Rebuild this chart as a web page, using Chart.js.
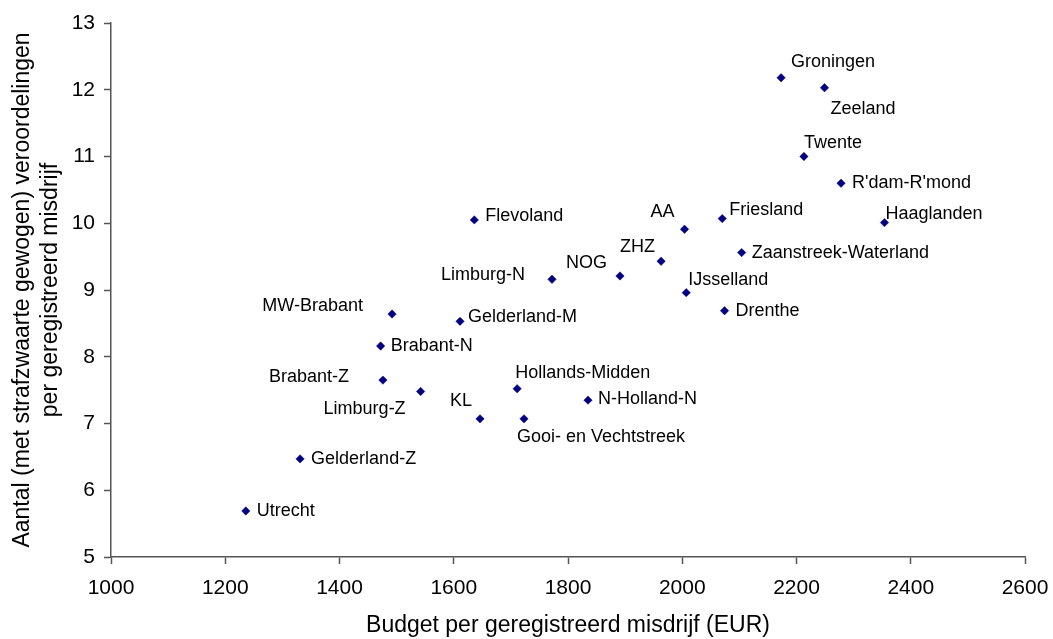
<!DOCTYPE html>
<html>
<head>
<meta charset="utf-8">
<script src="https://cdn.jsdelivr.net/npm/chart.js@4/dist/chart.umd.min.js"></script>
<style>
  html, body { margin: 0; padding: 0; background: #fff; }
  canvas { display: block; }
</style>
</head>
<body>
<canvas id="c" width="1053" height="639"></canvas>
<script>
// Politieregio's: budget per geregistreerd misdrijf vs. gewogen veroordelingen
const regios = [
  'Groningen', 'Zeeland', 'Twente', "R'dam-R'mond", 'Haaglanden',
  'Flevoland', 'AA', 'Friesland', 'ZHZ', 'Zaanstreek-Waterland',
  'NOG', 'Limburg-N', 'IJsselland', 'Drenthe', 'Gelderland-M',
  'Hollands-Midden', 'N-Holland-N', 'KL', 'Gooi- en Vechtstreek', 'MW-Brabant',
  'Brabant-N', 'Brabant-Z', 'Limburg-Z', 'Gelderland-Z', 'Utrecht'
];
const budget = [
  2173, 2249, 2213, 2278, 2354,
  1636, 2004, 2070, 1963, 2104,
  1891, 1772, 2007, 2074, 1611,
  1711, 1835, 1646, 1723, 1492,
  1472, 1476, 1542, 1331, 1236
];
const veroordelingen = [
  12.18, 12.03, 11.00, 10.60, 10.01,
  10.05, 9.91, 10.07, 9.43, 9.56,
  9.21, 9.16, 8.96, 8.69, 8.53,
  7.52, 7.35, 7.07, 7.07, 8.64,
  8.16, 7.65, 7.48, 6.47, 5.69
];
const xTicks = [1000, 1200, 1400, 1600, 1800, 2000, 2200, 2400, 2600];
const yTicks = [5, 6, 7, 8, 9, 10, 11, 12, 13];

// where each region's name sits relative to its marker
const labelPlacement = {
  'Groningen': ['left', 10, -16],
  'Zeeland': ['left', 6, 21],
  'Twente': ['left', 0, -13],
  "R'dam-R'mond": ['left', 11, 0],
  'Haaglanden': ['left', 1, -9],
  'Flevoland': ['left', 11, -4],
  'AA': ['right', -10, -17],
  'Friesland': ['left', 7, -9],
  'ZHZ': ['right', -6, -14],
  'Zaanstreek-Waterland': ['left', 10, 0],
  'NOG': ['right', -13, -13],
  'Limburg-N': ['right', -27, -4],
  'IJsselland': ['left', 2, -13],
  'Drenthe': ['left', 11, 0],
  'Gelderland-M': ['left', 8, -4],
  'Hollands-Midden': ['left', -2, -16],
  'N-Holland-N': ['left', 10, -1],
  'KL': ['right', -8, -18],
  'Gooi- en Vechtstreek': ['left', -7, 18],
  'MW-Brabant': ['right', -29, -8],
  'Brabant-N': ['left', 10, 0],
  'Brabant-Z': ['right', -34, -3],
  'Limburg-Z': ['right', -15, 18],
  'Gelderland-Z': ['left', 11, 0],
  'Utrecht': ['left', 11, 0]
};

const FONT = '"Liberation Sans", Arial, Helvetica, sans-serif';
const AXIS = '#555555';

const pointLabels = {
  id: 'pointLabels',
  afterDatasetsDraw(chart) {
    const ctx = chart.ctx;
    const meta = chart.getDatasetMeta(0);
    ctx.save();
    ctx.font = '18px ' + FONT;
    ctx.fillStyle = '#000';
    ctx.textBaseline = 'middle';
    meta.data.forEach((pt, i) => {
      const name = regios[i];
      const p = labelPlacement[name] || ['left', 10, 0];
      ctx.textAlign = p[0];
      ctx.fillText(name, pt.x + p[1], pt.y + p[2]);
    });
    ctx.restore();
  }
};

new Chart(document.getElementById('c'), {
  type: 'scatter',
  data: {
    datasets: [{
      label: 'Regio',
      data: budget.map((b, i) => ({ x: b, y: veroordelingen[i] })),
      pointStyle: 'rectRot',
      pointRadius: 4.2,
      pointHoverRadius: 4.2,
      backgroundColor: '#000080',
      borderColor: '#000080',
      borderWidth: 0.5
    }]
  },
  options: {
    responsive: false,
    animation: false,
    events: [],
    layout: { padding: { left: 0, top: 23, right: 28, bottom: 0 } },
    plugins: {
      legend: { display: false },
      tooltip: { enabled: false }
    },
    scales: {
      x: {
        type: 'linear',
        min: 1000, max: 2600,
        afterBuildTicks(scale) { scale.ticks = xTicks.map(v => ({ value: v })); },
        afterFit(scale) {
          scale.height = 82;
          scale.paddingLeft = 0;
          scale.paddingRight = 0;
        },
        border: { display: true, color: AXIS, width: 1.5 },
        grid: { display: true, drawOnChartArea: false, drawTicks: true, tickLength: 7, tickColor: AXIS, tickWidth: 1.5 },
        ticks: {
          color: '#000', padding: 12, maxRotation: 0, autoSkip: false,
          font: { family: FONT, size: 21 },
          callback: v => String(v)
        },
        title: {
          display: true,
          text: 'Budget per geregistreerd misdrijf (EUR)',
          color: '#000',
          font: { family: FONT, size: 23 },
          padding: { top: 0, bottom: 0 }
        }
      },
      y: {
        type: 'linear',
        min: 5, max: 13,
        afterBuildTicks(scale) { scale.ticks = yTicks.map(v => ({ value: v })); },
        afterFit(scale) {
          scale.width = 111;
          scale.paddingTop = 0;
          scale.paddingBottom = 0;
        },
        border: { display: true, color: AXIS, width: 1.5 },
        grid: { display: true, drawOnChartArea: false, drawTicks: true, tickLength: 7, tickColor: AXIS, tickWidth: 1.5 },
        ticks: {
          color: '#000', padding: 9, autoSkip: false,
          font: { family: FONT, size: 21 },
          callback: v => String(v)
        },
        title: {
          display: true,
          text: ['Aantal (met strafzwaarte gewogen) veroordelingen', 'per geregistreerd misdrijf'],
          color: '#000',
          font: { family: FONT, size: 23 },
          padding: { top: 9, bottom: 0 }
        }
      }
    }
  },
  plugins: [pointLabels]
});
</script>
</body>
</html>
